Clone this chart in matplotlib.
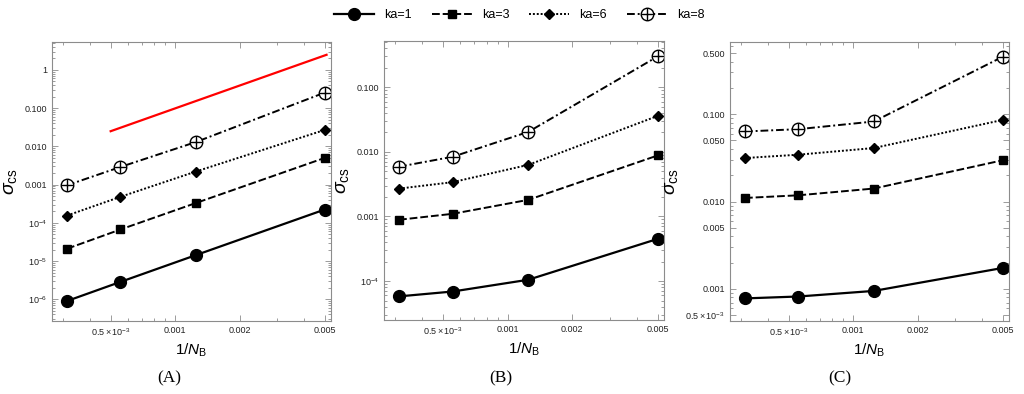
import numpy as np
import matplotlib
matplotlib.use('Agg')
import matplotlib.pyplot as plt
from matplotlib.ticker import FixedLocator, FixedFormatter, NullFormatter, LogLocator
from matplotlib.legend_handler import HandlerTuple

plt.rcParams['font.family'] = ['Liberation Sans', 'DejaVu Sans']
plt.rcParams['mathtext.fontset'] = 'custom'
plt.rcParams['mathtext.rm'] = 'Liberation Sans'
plt.rcParams['mathtext.it'] = 'Liberation Sans:italic'

# 1/N_B
inv_n = [1/3200, 1/1800, 1/800, 1/200]
labels = ['ka=1', 'ka=3', 'ka=6', 'ka=8']

# (A)
sig_a1 = [0.9e-6, 2.85e-6, 1.43e-5, 2.23e-4]
sig_a3 = [2.1e-5, 6.7e-5, 3.3e-4, 5.0e-3]
sig_a6 = [1.55e-4, 4.8e-4, 2.2e-3, 0.027]
sig_a8 = [0.96e-3, 2.9e-3, 0.013, 0.256]
red_x = [5e-4, 5.1e-3]
red_y = [0.025, 2.5]

# (B)
sig_b1 = [0.58e-4, 0.69e-4, 1.05e-4, 4.5e-4]
sig_b3 = [0.89e-3, 1.1e-3, 1.81e-3, 8.8e-3]
sig_b6 = [2.7e-3, 3.4e-3, 6.3e-3, 0.036]
sig_b8 = [5.9e-3, 8.4e-3, 0.0204, 0.30]

# (C)
sig_c1 = [0.78e-3, 0.82e-3, 0.95e-3, 1.74e-3]
sig_c3 = [0.0110, 0.0118, 0.0141, 0.0297]
sig_c6 = [0.0315, 0.0344, 0.041, 0.086]
sig_c8 = [0.0634, 0.0674, 0.0825, 0.454]

xticks = [0.5e-3, 1e-3, 2e-3, 5e-3]
xticklabels = [r'$0.5\times10^{-3}$', '0.001', '0.002', '0.005']

yt_a = [1, 0.1, 0.01, 0.001, 1e-4, 1e-5, 1e-6]
ytl_a = ['1', '0.100', '0.010', '0.001', r'$10^{-4}$', r'$10^{-5}$', r'$10^{-6}$']
yt_b = [0.1, 0.01, 0.001, 1e-4]
ytl_b = ['0.100', '0.010', '0.001', r'$10^{-4}$']
yt_c = [0.5, 0.1, 0.05, 0.01, 0.005, 0.001, 0.5e-3]
ytl_c = ['0.500', '0.100', '0.050', '0.010', '0.005', '0.001', r'$0.5\times10^{-3}$']

fig = plt.figure(figsize=(10.24, 3.94), dpi=100)
W, H = 1024, 394
boxes = [(52, 331, 42, 321), (384, 664, 41, 320), (730, 1009, 42, 321)]
axs = []
for l, r, t, b in boxes:
    axs.append(fig.add_axes([l/W, 1 - b/H, (r - l)/W, (b - t)/H]))

frame_c = '#8c8c8c'

def draw(ax, s1, s3, s6, s8):
    h1, = ax.plot(inv_n, s1, '-', color='k', lw=1.6, marker='o', ms=8.5)
    h3, = ax.plot(inv_n, s3, color='k', lw=1.4, ls=(0, (4, 1.5)), marker='s', ms=5.5)
    h6, = ax.plot(inv_n, s6, color='k', lw=1.4, ls=(0, (1, 1)), marker='D', ms=5)
    h8, = ax.plot(inv_n, s8, color='k', lw=1.4, ls=(0, (4, 1.5, 1, 1.5)), marker='o',
                  ms=9, mfc='white', mec='k', mew=1.0)
    h8p, = ax.plot(inv_n, s8, ls='none', marker='+', ms=9, mec='k', mew=1.0)
    return [h1, h3, h6, (h8, h8p)]

def style(ax, yt, ytl, ylim):
    ax.set_xscale('log')
    ax.set_yscale('log')
    ax.set_xlim(0.000266, 0.00535)
    ax.set_ylim(*ylim)
    ax.xaxis.set_major_locator(FixedLocator(xticks))
    ax.xaxis.set_major_formatter(FixedFormatter(xticklabels))
    ax.xaxis.set_minor_locator(LogLocator(base=10, subs=np.arange(1, 10) * 1.0, numticks=20))
    ax.xaxis.set_minor_formatter(NullFormatter())
    ax.yaxis.set_major_locator(FixedLocator(yt))
    ax.yaxis.set_major_formatter(FixedFormatter(ytl))
    ax.yaxis.set_minor_locator(LogLocator(base=10, subs=np.arange(1, 10) * 1.0, numticks=20))
    ax.yaxis.set_minor_formatter(NullFormatter())
    ax.tick_params(which='both', direction='in', top=True, right=True, colors=frame_c,
                   labelcolor='#222222', labelsize=6.5, width=0.6)
    ax.tick_params(which='major', length=4)
    ax.tick_params(which='minor', length=2)
    for sp in ax.spines.values():
        sp.set_color(frame_c)
        sp.set_linewidth(0.8)
    ax.set_xlabel(r'$1/N_{\rm B}$', fontsize=11, labelpad=3)
    ax.set_ylabel(r'$\mathit{\sigma}_{\rm cs}$', fontsize=14, labelpad=4)

handles = draw(axs[0], sig_a1, sig_a3, sig_a6, sig_a8)
axs[0].plot(red_x, red_y, color='red', lw=1.6)
style(axs[0], yt_a, ytl_a, (2.7e-7, 5.4))

draw(axs[1], sig_b1, sig_b3, sig_b6, sig_b8)
style(axs[1], yt_b, ytl_b, (2.5e-5, 0.52))

draw(axs[2], sig_c1, sig_c3, sig_c6, sig_c8)
style(axs[2], yt_c, ytl_c, (4.3e-4, 0.67))

fig.legend(handles, labels, loc='upper center', bbox_to_anchor=(0.507, 1.005), ncol=4,
           frameon=False, fontsize=9, handlelength=3.2, columnspacing=1.6,
           handler_map={tuple: HandlerTuple(ndivide=1)})

for xp, t in zip([169, 501, 840], ['(A)', '(B)', '(C)']):
    fig.text(xp/W, 1 - 378/H, t, ha='center', va='center', fontsize=12.5,
             family='Liberation Serif')

fig.savefig('out.png', dpi=100)
